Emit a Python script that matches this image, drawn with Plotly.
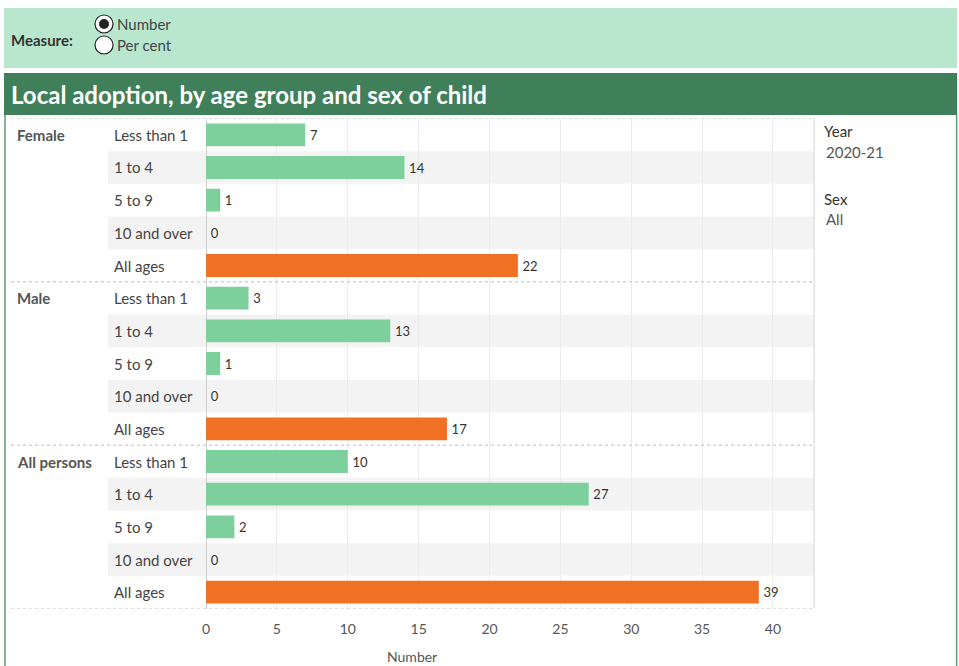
import plotly.graph_objects as go

W, H = 959, 666

groups = ["Female", "Male", "All persons"]
ages = ["Less than 1", "1 to 4", "5 to 9", "10 and over", "All ages"]
female = [7, 14, 1, 0, 22]
male = [3, 13, 1, 0, 17]
all_persons = [10, 27, 2, 0, 39]
x_ticks = [0, 5, 10, 15, 20, 25, 30, 35, 40]
year_label = "2020-21"
sex_label = "All"

GREEN = "#7dcf9c"
ORANGE = "#f07124"
DARK = "#3f7f5a"
FONT = "Lato"

def xp(x):
    return max(0.0, (x - 3.0) / 0.9957) / W

def yp(y):
    return 1 - y / H

values = female + male + all_persons
rows = list(range(len(values)))
colors = [ORANGE if a == "All ages" else GREEN for _ in groups for a in ages]

fig = go.Figure()
fig.add_trace(go.Bar(
    x=values, y=rows, orientation="h", width=0.7,
    marker=dict(color=colors, line=dict(width=0)),
    text=["\u2009" + str(v) for v in values], textposition="outside",
    textfont=dict(family=FONT, size=13, color="#333"),
    cliponaxis=False, hoverinfo="skip",
))

shapes = []
anns = []
shapes.append(dict(type="rect", xref="paper", yref="paper", x0=xp(3), x1=xp(956), y0=yp(68), y1=yp(8),
                   fillcolor="#b9e7cd", line=dict(width=0), layer="below"))
shapes.append(dict(type="rect", xref="paper", yref="paper", x0=xp(3), x1=xp(956), y0=yp(115), y1=yp(73),
                   fillcolor=DARK, line=dict(width=0), layer="below"))
for xx in (4, 955.5):
    shapes.append(dict(type="line", xref="paper", yref="paper", x0=xp(xx), x1=xp(xx), y0=yp(115), y1=yp(666),
                       line=dict(color="#5f9a77", width=1.5)))
shapes.append(dict(type="circle", xref="paper", yref="paper", x0=xp(94), x1=xp(112), y0=yp(33), y1=yp(15),
                   line=dict(color="#222", width=1.2), fillcolor="white"))
shapes.append(dict(type="circle", xref="paper", yref="paper", x0=xp(98), x1=xp(108), y0=yp(29), y1=yp(19),
                   line=dict(width=0), fillcolor="#222"))
shapes.append(dict(type="circle", xref="paper", yref="paper", x0=xp(94), x1=xp(112), y0=yp(54), y1=yp(36),
                   line=dict(color="#222", width=1.2), fillcolor="white"))
anns.append(dict(text="<b>Measure:</b>", x=xp(8), y=yp(40), xref="paper", yref="paper", xanchor="left",
                 yanchor="middle", showarrow=False, font=dict(family=FONT, size=15, color="#333")))
anns.append(dict(text="Number", x=xp(114), y=yp(24), xref="paper", yref="paper", xanchor="left",
                 yanchor="middle", showarrow=False, font=dict(family=FONT, size=15, color="#444")))
anns.append(dict(text="Per cent", x=xp(114), y=yp(45), xref="paper", yref="paper", xanchor="left",
                 yanchor="middle", showarrow=False, font=dict(family=FONT, size=15, color="#444")))
anns.append(dict(text="<b>Local adoption, by age group and sex of child</b>", x=xp(8), y=yp(95), xref="paper",
                 yref="paper", xanchor="left", yanchor="middle", showarrow=False,
                 font=dict(family=FONT, size=24, color="white")))

for gi, g in enumerate(groups):
    for ai, a in enumerate(ages):
        r = gi * len(ages) + ai
        if ai % 2 == 1:
            shapes.append(dict(type="rect", xref="paper", yref="y", x0=xp(107), x1=xp(813), y0=r - 0.5, y1=r + 0.5,
                               fillcolor="#f3f3f3", line=dict(width=0), layer="below"))
        anns.append(dict(text=a, x=xp(111), y=r, xref="paper", yref="y", xanchor="left", yanchor="middle",
                         showarrow=False, font=dict(family=FONT, size=15, color="#444")))
    anns.append(dict(text="<b>" + g + "</b>", x=xp(14), y=gi * len(ages), xref="paper", yref="y", xanchor="left",
                     yanchor="middle", showarrow=False, font=dict(family=FONT, size=15, color="#555")))
for b in range(len(groups) + 1):
    yb = b * len(ages) - 0.5
    shapes.append(dict(type="line", xref="paper", yref="y", x0=xp(10), x1=xp(813), y0=yb, y1=yb,
                       line=dict(color="#bdbdbd", width=1, dash="dot")))
shapes.append(dict(type="line", xref="paper", yref="paper", x0=xp(813), x1=xp(813), y0=yp(608), y1=yp(118),
                   line=dict(color="#d6d6d6", width=1)))

for txt, x, y, c in [("Year", 821, 131, "#333"), (year_label, 823, 152, "#555"),
                     ("Sex", 821, 199, "#333"), (sex_label, 823, 219, "#555")]:
    anns.append(dict(text=txt, x=xp(x), y=yp(y), xref="paper", yref="paper", xanchor="left", yanchor="middle",
                     showarrow=False, font=dict(family=FONT, size=15, color=c)))
anns.append(dict(text="Number", x=xp(411), y=yp(656), xref="paper", yref="paper", xanchor="center",
                 yanchor="middle", showarrow=False, font=dict(family=FONT, size=14, color="#555")))

fig.update_layout(
    width=W, height=H, margin=dict(l=0, r=0, t=0, b=0),
    paper_bgcolor="white", plot_bgcolor="rgba(0,0,0,0)",
    showlegend=False, shapes=shapes, annotations=anns,
    font=dict(family=FONT),
    xaxis=dict(domain=[xp(205), xp(813)], range=[0, 42.9], tickvals=x_ticks,
               tickfont=dict(family=FONT, size=14, color="#555"), showgrid=True, gridcolor="#ececec",
               zeroline=True, zerolinecolor="#cfcfcf", zerolinewidth=1, ticks="outside", ticklen=8,
               tickcolor="rgba(0,0,0,0)", showline=False, fixedrange=True),
    yaxis=dict(domain=[yp(608.5), yp(118.5)], range=[len(values) - 0.5, -0.5], showticklabels=False,
               showgrid=False, zeroline=False, showline=False, fixedrange=True),
)

fig.write_html("out.html")
